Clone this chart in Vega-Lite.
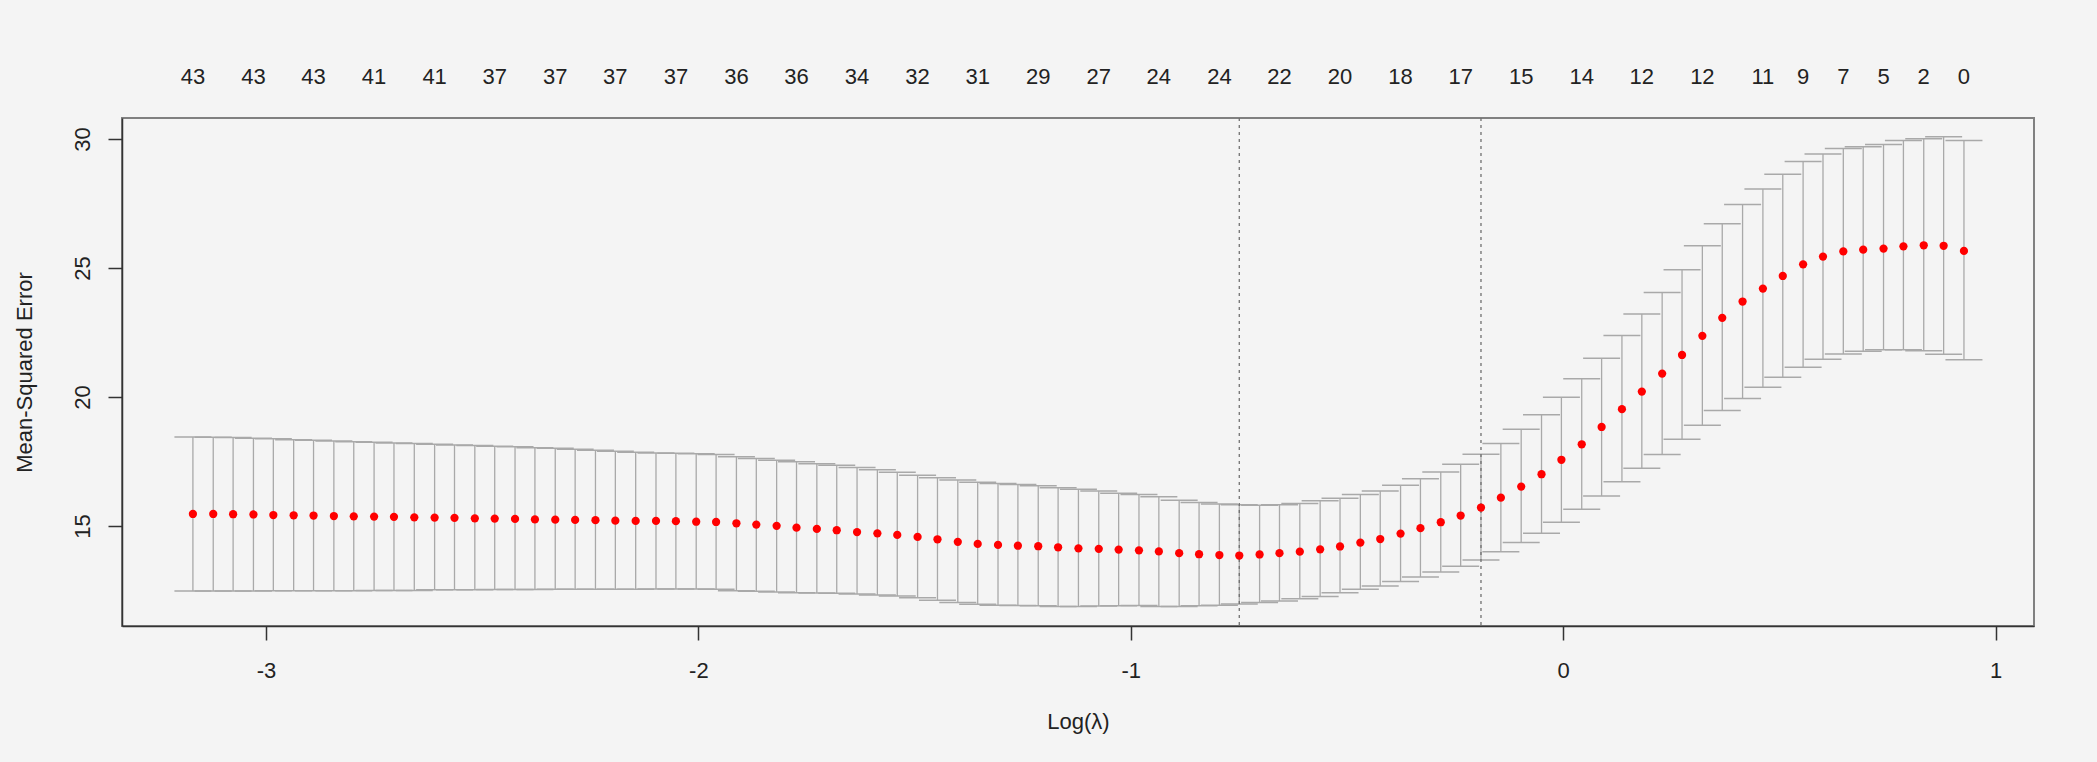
{
  "$schema": "https://vega.github.io/schema/vega-lite/v6.json",
  "background": "#f4f4f4",
  "padding": {"left": 12, "top": 57, "right": 64, "bottom": 30},
  "bounds": "flush",
  "spacing": 21,
  "config": {
    "font": "Liberation Sans",
    "view": {"stroke": null},
    "axis": {
      "grid": false,
      "labelFont": "Liberation Sans",
      "labelFontSize": 22,
      "labelColor": "#222222",
      "titleFont": "Liberation Sans",
      "titleFontSize": 22,
      "titleFontWeight": "normal",
      "titleColor": "#222222",
      "tickColor": "#333333",
      "tickWidth": 1.5,
      "tickSize": 14,
      "domainColor": "#333333",
      "domainWidth": 1.5
    }
  },
  "datasets": {
    "cv": [
      {"logLambda": -3.169, "mse": 15.47, "lower": 12.49, "upper": 18.45},
      {"logLambda": -3.122, "mse": 15.47, "lower": 12.49, "upper": 18.44},
      {"logLambda": -3.076, "mse": 15.46, "lower": 12.49, "upper": 18.43},
      {"logLambda": -3.029, "mse": 15.45, "lower": 12.49, "upper": 18.40},
      {"logLambda": -2.983, "mse": 15.43, "lower": 12.50, "upper": 18.38},
      {"logLambda": -2.936, "mse": 15.42, "lower": 12.50, "upper": 18.35},
      {"logLambda": -2.890, "mse": 15.41, "lower": 12.50, "upper": 18.33},
      {"logLambda": -2.843, "mse": 15.39, "lower": 12.50, "upper": 18.30},
      {"logLambda": -2.797, "mse": 15.38, "lower": 12.50, "upper": 18.27},
      {"logLambda": -2.750, "mse": 15.37, "lower": 12.51, "upper": 18.25},
      {"logLambda": -2.704, "mse": 15.36, "lower": 12.51, "upper": 18.22},
      {"logLambda": -2.657, "mse": 15.34, "lower": 12.51, "upper": 18.20},
      {"logLambda": -2.610, "mse": 15.33, "lower": 12.53, "upper": 18.17},
      {"logLambda": -2.564, "mse": 15.32, "lower": 12.53, "upper": 18.14},
      {"logLambda": -2.517, "mse": 15.30, "lower": 12.53, "upper": 18.12},
      {"logLambda": -2.471, "mse": 15.29, "lower": 12.54, "upper": 18.09},
      {"logLambda": -2.424, "mse": 15.28, "lower": 12.54, "upper": 18.07},
      {"logLambda": -2.378, "mse": 15.26, "lower": 12.54, "upper": 18.04},
      {"logLambda": -2.331, "mse": 15.25, "lower": 12.55, "upper": 18.02},
      {"logLambda": -2.285, "mse": 15.24, "lower": 12.55, "upper": 17.98},
      {"logLambda": -2.238, "mse": 15.23, "lower": 12.55, "upper": 17.94},
      {"logLambda": -2.192, "mse": 15.21, "lower": 12.55, "upper": 17.90},
      {"logLambda": -2.145, "mse": 15.20, "lower": 12.55, "upper": 17.86},
      {"logLambda": -2.098, "mse": 15.20, "lower": 12.56, "upper": 17.83},
      {"logLambda": -2.052, "mse": 15.19, "lower": 12.56, "upper": 17.82},
      {"logLambda": -2.005, "mse": 15.17, "lower": 12.56, "upper": 17.80},
      {"logLambda": -1.959, "mse": 15.16, "lower": 12.55, "upper": 17.77},
      {"logLambda": -1.912, "mse": 15.11, "lower": 12.50, "upper": 17.69},
      {"logLambda": -1.866, "mse": 15.06, "lower": 12.48, "upper": 17.62},
      {"logLambda": -1.819, "mse": 15.01, "lower": 12.45, "upper": 17.55},
      {"logLambda": -1.773, "mse": 14.94, "lower": 12.42, "upper": 17.49},
      {"logLambda": -1.726, "mse": 14.89, "lower": 12.41, "upper": 17.42},
      {"logLambda": -1.680, "mse": 14.84, "lower": 12.40, "upper": 17.36},
      {"logLambda": -1.633, "mse": 14.77, "lower": 12.37, "upper": 17.27},
      {"logLambda": -1.586, "mse": 14.72, "lower": 12.33, "upper": 17.18},
      {"logLambda": -1.540, "mse": 14.66, "lower": 12.29, "upper": 17.09},
      {"logLambda": -1.493, "mse": 14.58, "lower": 12.22, "upper": 16.97},
      {"logLambda": -1.447, "mse": 14.49, "lower": 12.13, "upper": 16.87},
      {"logLambda": -1.400, "mse": 14.39, "lower": 12.04, "upper": 16.79},
      {"logLambda": -1.354, "mse": 14.31, "lower": 11.97, "upper": 16.70},
      {"logLambda": -1.307, "mse": 14.27, "lower": 11.93, "upper": 16.65},
      {"logLambda": -1.261, "mse": 14.24, "lower": 11.92, "upper": 16.61},
      {"logLambda": -1.214, "mse": 14.22, "lower": 11.91, "upper": 16.56},
      {"logLambda": -1.168, "mse": 14.18, "lower": 11.89, "upper": 16.49},
      {"logLambda": -1.121, "mse": 14.14, "lower": 11.89, "upper": 16.43},
      {"logLambda": -1.074, "mse": 14.12, "lower": 11.90, "upper": 16.36},
      {"logLambda": -1.028, "mse": 14.09, "lower": 11.91, "upper": 16.27},
      {"logLambda": -0.981, "mse": 14.06, "lower": 11.92, "upper": 16.22},
      {"logLambda": -0.935, "mse": 14.02, "lower": 11.89, "upper": 16.14},
      {"logLambda": -0.888, "mse": 13.95, "lower": 11.89, "upper": 16.00},
      {"logLambda": -0.842, "mse": 13.91, "lower": 11.91, "upper": 15.91},
      {"logLambda": -0.795, "mse": 13.88, "lower": 11.93, "upper": 15.86},
      {"logLambda": -0.749, "mse": 13.86, "lower": 11.98, "upper": 15.83},
      {"logLambda": -0.702, "mse": 13.90, "lower": 12.04, "upper": 15.81},
      {"logLambda": -0.656, "mse": 13.95, "lower": 12.10, "upper": 15.83},
      {"logLambda": -0.609, "mse": 14.01, "lower": 12.19, "upper": 15.88},
      {"logLambda": -0.562, "mse": 14.10, "lower": 12.27, "upper": 15.98},
      {"logLambda": -0.516, "mse": 14.21, "lower": 12.42, "upper": 16.08},
      {"logLambda": -0.469, "mse": 14.36, "lower": 12.55, "upper": 16.22},
      {"logLambda": -0.423, "mse": 14.50, "lower": 12.68, "upper": 16.36},
      {"logLambda": -0.376, "mse": 14.71, "lower": 12.85, "upper": 16.58},
      {"logLambda": -0.330, "mse": 14.92, "lower": 13.03, "upper": 16.83},
      {"logLambda": -0.283, "mse": 15.15, "lower": 13.22, "upper": 17.10},
      {"logLambda": -0.237, "mse": 15.41, "lower": 13.44, "upper": 17.40},
      {"logLambda": -0.190, "mse": 15.72, "lower": 13.69, "upper": 17.78},
      {"logLambda": -0.144, "mse": 16.10, "lower": 14.01, "upper": 18.20},
      {"logLambda": -0.097, "mse": 16.53, "lower": 14.36, "upper": 18.75},
      {"logLambda": -0.050, "mse": 17.01, "lower": 14.72, "upper": 19.31},
      {"logLambda": -0.004, "mse": 17.57, "lower": 15.15, "upper": 19.99},
      {"logLambda": 0.043, "mse": 18.17, "lower": 15.65, "upper": 20.71},
      {"logLambda": 0.089, "mse": 18.84, "lower": 16.17, "upper": 21.50},
      {"logLambda": 0.136, "mse": 19.53, "lower": 16.72, "upper": 22.38},
      {"logLambda": 0.182, "mse": 20.21, "lower": 17.24, "upper": 23.22},
      {"logLambda": 0.229, "mse": 20.91, "lower": 17.77, "upper": 24.05},
      {"logLambda": 0.275, "mse": 21.63, "lower": 18.36, "upper": 24.93},
      {"logLambda": 0.322, "mse": 22.37, "lower": 18.91, "upper": 25.86},
      {"logLambda": 0.368, "mse": 23.07, "lower": 19.48, "upper": 26.71},
      {"logLambda": 0.415, "mse": 23.70, "lower": 19.94, "upper": 27.46},
      {"logLambda": 0.462, "mse": 24.20, "lower": 20.38, "upper": 28.06},
      {"logLambda": 0.508, "mse": 24.69, "lower": 20.77, "upper": 28.63},
      {"logLambda": 0.555, "mse": 25.14, "lower": 21.15, "upper": 29.12},
      {"logLambda": 0.601, "mse": 25.44, "lower": 21.46, "upper": 29.42},
      {"logLambda": 0.648, "mse": 25.64, "lower": 21.67, "upper": 29.63},
      {"logLambda": 0.694, "mse": 25.71, "lower": 21.77, "upper": 29.70},
      {"logLambda": 0.741, "mse": 25.75, "lower": 21.83, "upper": 29.78},
      {"logLambda": 0.787, "mse": 25.84, "lower": 21.83, "upper": 29.94},
      {"logLambda": 0.834, "mse": 25.88, "lower": 21.79, "upper": 30.01},
      {"logLambda": 0.880, "mse": 25.86, "lower": 21.66, "upper": 30.08},
      {"logLambda": 0.927, "mse": 25.66, "lower": 21.44, "upper": 29.94}
    ],
    "labels": [
      {"logLambda": -3.169, "nz": 43},
      {"logLambda": -3.029, "nz": 43},
      {"logLambda": -2.890, "nz": 43},
      {"logLambda": -2.750, "nz": 41},
      {"logLambda": -2.610, "nz": 41},
      {"logLambda": -2.471, "nz": 37},
      {"logLambda": -2.331, "nz": 37},
      {"logLambda": -2.192, "nz": 37},
      {"logLambda": -2.052, "nz": 37},
      {"logLambda": -1.912, "nz": 36},
      {"logLambda": -1.773, "nz": 36},
      {"logLambda": -1.633, "nz": 34},
      {"logLambda": -1.493, "nz": 32},
      {"logLambda": -1.354, "nz": 31},
      {"logLambda": -1.214, "nz": 29},
      {"logLambda": -1.074, "nz": 27},
      {"logLambda": -0.935, "nz": 24},
      {"logLambda": -0.795, "nz": 24},
      {"logLambda": -0.656, "nz": 22},
      {"logLambda": -0.516, "nz": 20},
      {"logLambda": -0.376, "nz": 18},
      {"logLambda": -0.237, "nz": 17},
      {"logLambda": -0.097, "nz": 15},
      {"logLambda": 0.043, "nz": 14},
      {"logLambda": 0.182, "nz": 12},
      {"logLambda": 0.322, "nz": 12},
      {"logLambda": 0.462, "nz": 11},
      {"logLambda": 0.555, "nz": 9},
      {"logLambda": 0.648, "nz": 7},
      {"logLambda": 0.741, "nz": 5},
      {"logLambda": 0.834, "nz": 2},
      {"logLambda": 0.927, "nz": 0}
    ],
    "cuts": [
      {"logLambda": -0.749, "which": "lambda.min"},
      {"logLambda": -0.190, "which": "lambda.1se"}
    ]
  },
  "vconcat": [
    {
      "width": 1912,
      "height": 40,
      "view": {"fill": "#f4f4f4", "stroke": null},
      "data": {"name": "labels"},
      "mark": {"type": "text", "fontSize": 22, "color": "#222222", "font": "Liberation Sans"},
      "encoding": {
        "x": {"field": "logLambda", "type": "quantitative", "scale": {"domain": [-3.333, 1.089], "nice": false, "zero": false}, "axis": null},
        "text": {"field": "nz", "type": "nominal"}
      }
    },
    {
      "width": 1912,
      "height": 508,
      "view": {"stroke": "#808080", "strokeWidth": 2},
      "layer": [
        {
          "data": {"name": "cv"},
          "mark": {"type": "rule", "color": "#a9a9a9", "strokeWidth": 1.3},
          "encoding": {
            "x": {
              "field": "logLambda", "type": "quantitative",
              "scale": {"domain": [-3.333, 1.089], "nice": false, "zero": false},
              "axis": {
                "values": [-3, -2, -1, 0, 1],
                "labelExpr": "datum.value + ''",
                "title": "Log(λ)",
                "labelPadding": 20,
                "titleY": 102,
                "titleBaseline": "alphabetic"
              }
            },
            "y": {
              "field": "lower", "type": "quantitative",
              "scale": {"domain": [11.13, 30.81], "nice": false, "zero": false},
              "axis": {
                "values": [15, 20, 25, 30],
                "labelAngle": 270,
                "labelAlign": "center",
                "labelBaseline": "bottom",
                "labelPadding": 14,
                "title": "Mean-Squared Error",
                "titleX": -91,
                "titleBaseline": "alphabetic"
              }
            },
            "y2": {"field": "upper"}
          }
        },
        {
          "data": {"name": "cv"},
          "mark": {"type": "tick", "orient": "horizontal", "size": 37, "thickness": 1.5, "color": "#a9a9a9", "opacity": 1},
          "encoding": {
            "x": {"field": "logLambda", "type": "quantitative"},
            "y": {"field": "upper", "type": "quantitative"}
          }
        },
        {
          "data": {"name": "cv"},
          "mark": {"type": "tick", "orient": "horizontal", "size": 37, "thickness": 1.5, "color": "#a9a9a9", "opacity": 1},
          "encoding": {
            "x": {"field": "logLambda", "type": "quantitative"},
            "y": {"field": "lower", "type": "quantitative"}
          }
        },
        {
          "data": {"name": "cuts"},
          "mark": {"type": "rule", "color": "#707070", "strokeWidth": 1.3, "strokeDash": [3, 4]},
          "encoding": {
            "x": {"field": "logLambda", "type": "quantitative"}
          }
        },
        {
          "data": {"name": "cv"},
          "mark": {"type": "circle", "color": "#ff0000", "size": 68, "opacity": 1},
          "encoding": {
            "x": {"field": "logLambda", "type": "quantitative"},
            "y": {"field": "mse", "type": "quantitative"}
          }
        }
      ]
    }
  ]
}
